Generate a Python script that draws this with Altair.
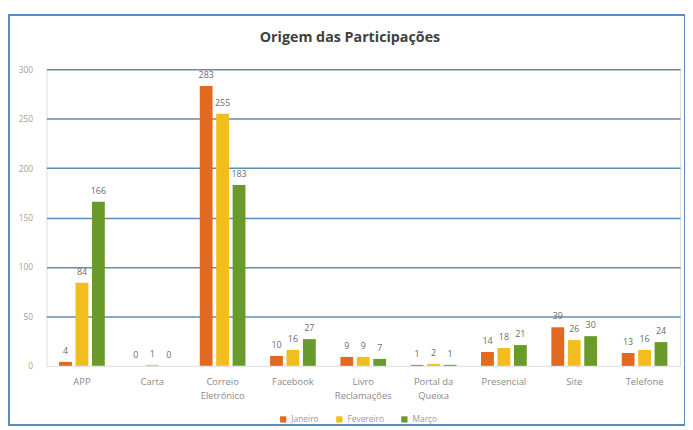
import altair as alt
import pandas as pd

categories = ["APP", "Carta", "Correio Eletrónico", "Facebook", "Livro Reclamações",
              "Portal da Queixa", "Presencial", "Site", "Telefone"]
months = ["Janeiro", "Fevereiro", "Março"]
janeiro = [4, 0, 283, 10, 9, 1, 14, 39, 13]
fevereiro = [84, 1, 255, 16, 9, 2, 18, 26, 16]
marco = [166, 0, 183, 27, 7, 1, 21, 30, 24]
colors = ["#E2691F", "#F2BE1E", "#6A9A2B"]
title_text = "Origem das Participações"

rows = []
for i, c in enumerate(categories):
    for m, vals in zip(months, [janeiro, fevereiro, marco]):
        rows.append({"cat": c, "month": m, "value": vals[i]})
df = pd.DataFrame(rows)

label_expr = ("datum.label == 'Correio Eletrónico' ? ['Correio', 'Eletrónico'] : "
              "datum.label == 'Livro Reclamações' ? ['Livro', 'Reclamações'] : "
              "datum.label == 'Portal da Queixa' ? ['Portal da', 'Queixa'] : datum.label")

x = alt.X("cat:N", sort=categories, title=None,
          scale=alt.Scale(paddingInner=0.35, paddingOuter=0.18),
          axis=alt.Axis(labelExpr=label_expr, labelAngle=0, labelColor="#8a8a8a",
                        labelFontSize=9.5, labelFont="Open Sans", domain=False,
                        ticks=False, labelPadding=11, labelLineHeight=14))
xo = alt.XOffset("month:N", sort=months, scale=alt.Scale(paddingInner=0.22))
y = alt.Y("value:Q", title=None,
          scale=alt.Scale(domain=[0, 300], nice=False),
          axis=alt.Axis(values=[0, 50, 100, 150, 200, 250, 300], domain=False, ticks=False,
                        labelColor="#a0a0a0", labelFontSize=8.5, labelFont="Open Sans",
                        labelPadding=14,
                        gridColor="#4F7FB0", gridWidth=1.6,
                        gridOpacity={"condition": {"test": "datum.value === 0", "value": 0}, "value": 0.9}))

color = alt.Color("month:N", sort=months,
                  scale=alt.Scale(domain=months, range=colors),
                  legend=alt.Legend(orient="none", legendX=236, legendY=351, direction="horizontal",
                                    title=None, symbolType="square", symbolSize=40,
                                    labelFontSize=8.5, labelColor="#9a9a9a", labelFont="Open Sans",
                                    columnPadding=16))

bars = alt.Chart(df).mark_bar().encode(x=x, xOffset=xo, y=y, color=color)
labels = alt.Chart(df).mark_text(dy=-11, fontSize=9, color="#6b6b6b", font="Open Sans").encode(
    x=x, xOffset=xo, y=y, text="value:Q")

one = alt.Data(values=[{"t": title_text}])
frame = alt.Chart(one).mark_rect(
    fill=None, stroke="#5A8CC0", strokeWidth=2).encode(
    x=alt.value(-38), x2=alt.value(648), y=alt.value(-55), y2=alt.value(361))
title = alt.Chart(one).mark_text(fontSize=14.5, font="Open Sans", fontWeight="bold",
                                 color="#404040", baseline="middle").encode(
    x=alt.value(308), y=alt.value(-32), text="t:N")

chart = alt.layer(frame, title, bars, labels).properties(
    width=643, height=301,
    autosize=alt.AutoSizeParams(type="none"),
    padding={"left": 39, "top": 59, "right": 5, "bottom": 62},
).configure_view(stroke=None).configure(background="white")

chart.save("out.html", embed_options={"renderer": "svg", "actions": False})
